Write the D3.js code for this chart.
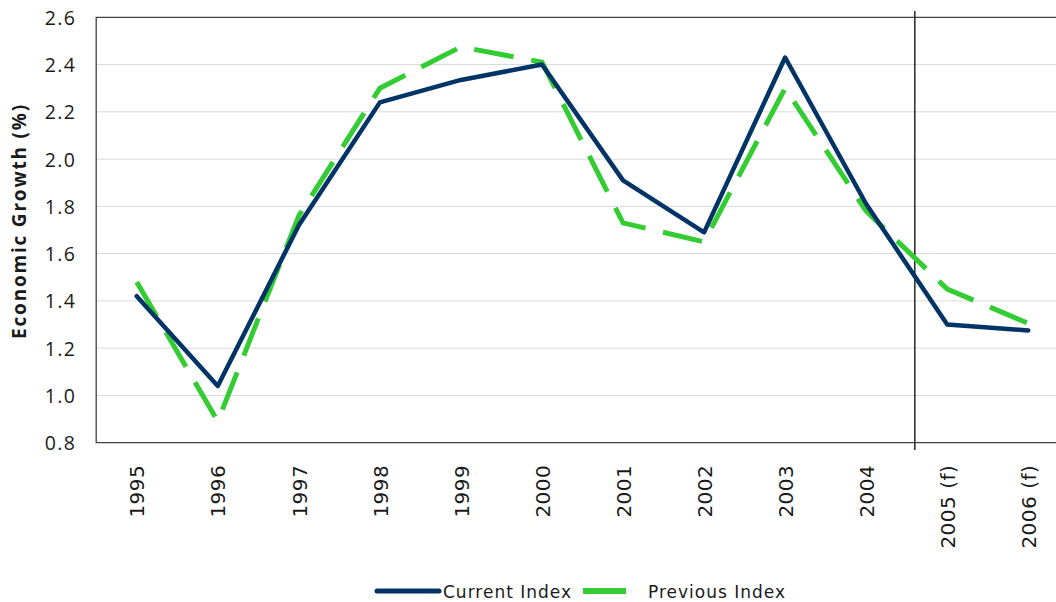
<!DOCTYPE html>
<html>
<head>
<meta charset="utf-8">
<script src="https://cdn.jsdelivr.net/npm/d3@7"></script>
<style>
  body { margin: 0; background: #fff; }
  svg { display: block; }
  .grid line { stroke: #d9d9d9; stroke-width: 1; }
  .ylab { font-family: "Open Sans", "Noto Sans", sans-serif; font-size: 19.5px; fill: #1a1a1a; }
  .xlab { font-family: "DejaVu Sans", sans-serif; font-size: 20px; fill: #1a1a1a; }
  .legend text { font-family: "DejaVu Sans", sans-serif; font-size: 17px; fill: #1a1a1a; }
</style>
</head>
<body>
<svg class="mainsvg" width="1056" height="602"></svg>
<script>
var years = ["1995", "1996", "1997", "1998", "1999", "2000", "2001", "2002", "2003", "2004", "2005 (f)", "2006 (f)"];
var currentIndex = [1.42, 1.04, 1.72, 2.24, 2.335, 2.40, 1.91, 1.69, 2.43, 1.81, 1.30, 1.275];
var previousIndex = [1.48, 0.89, 1.76, 2.30, 2.475, 2.41, 1.73, 1.65, 2.30, 1.78, 1.45, 1.305];
var yTicks = [0.8, 1.0, 1.2, 1.4, 1.6, 1.8, 2.0, 2.2, 2.4, 2.6];

var plotLeft = 96.2, plotTop = 17.3, plotBottom = 442.7;
var step = 81.05;

var svg = d3.select(".mainsvg");

var x = d3.scalePoint()
    .domain(years)
    .range([plotLeft + step / 2, plotLeft + step * (years.length - 0.5)]);

var y = d3.scaleLinear()
    .domain([0.8, 2.6])
    .range([plotBottom, plotTop]);

// horizontal gridlines
svg.append("g").attr("class", "grid")
  .selectAll("line")
  .data(yTicks.slice(1, -1))
  .enter().append("line")
  .attr("x1", plotLeft).attr("x2", 1056)
  .attr("y1", function (d) { return y(d); })
  .attr("y2", function (d) { return y(d); });

// plot frame
svg.append("path")
  .attr("d", "M1056," + y(2.6) + "H" + plotLeft + "V" + y(0.8) + "H1056")
  .attr("fill", "none")
  .attr("stroke", "#404040")
  .attr("stroke-width", 1.3);

// y axis labels
var yAxis = d3.axisLeft(y).tickValues(yTicks).tickFormat(d3.format(".1f")).tickSize(0).tickPadding(20);
var ya = svg.append("g").attr("transform", "translate(" + plotLeft + ",0)").call(yAxis);
ya.select(".domain").remove();
ya.selectAll("text").attr("class", "ylab").attr("font-family", null).attr("font-size", null)
  .attr("letter-spacing", "1.3px").attr("dy", "0.36em");

// x axis labels
var xAxis = d3.axisBottom(x).tickSize(0).tickPadding(0);
var xa = svg.append("g").attr("transform", "translate(0," + plotBottom + ")").call(xAxis);
xa.select(".domain").remove();
xa.selectAll("text")
  .attr("class", "xlab").attr("font-family", null).attr("font-size", null)
  .attr("text-anchor", "end")
  .attr("letter-spacing", "0.5px")
  .attr("transform", "rotate(-90)")
  .attr("x", -22).attr("y", 0).attr("dy", "0.36em");

// forecast divider
var divX = x("2004") + step * 0.6;
svg.append("line")
  .attr("x1", divX).attr("x2", divX)
  .attr("y1", 11).attr("y2", 450)
  .attr("stroke", "#262626").attr("stroke-width", 1.5);

// y axis title
svg.append("text")
  .attr("transform", "translate(26,221) rotate(-90)")
  .attr("text-anchor", "middle")
  .style("font-family", "'Open Sans', 'Noto Sans', sans-serif")
  .style("font-size", "19px")
  .style("font-weight", "bold")
  .style("letter-spacing", "1.8px")
  .attr("fill", "#1a1a1a")
  .text("Economic Growth (%)");

var line = d3.line()
  .x(function (d, i) { return x(years[i]); })
  .y(function (d) { return y(d); });

svg.append("path")
  .datum(previousIndex)
  .attr("d", line)
  .attr("fill", "none")
  .attr("stroke", "#33cc33")
  .attr("stroke-width", 5)
  .attr("stroke-dasharray", "40,18");

svg.append("path")
  .datum(currentIndex)
  .attr("d", line)
  .attr("fill", "none")
  .attr("stroke", "#003366")
  .attr("stroke-width", 4.5)
  .attr("stroke-linejoin", "round")
  .attr("stroke-linecap", "round");

// legend
var legend = svg.append("g").attr("class", "legend");
legend.append("line")
  .attr("x1", 377).attr("x2", 439).attr("y1", 591).attr("y2", 591)
  .attr("stroke", "#003366").attr("stroke-width", 5).attr("stroke-linecap", "round");
legend.append("text").attr("x", 443).attr("y", 597.5).attr("letter-spacing", "1px").text("Current Index");
legend.append("line")
  .attr("x1", 583).attr("x2", 626).attr("y1", 591).attr("y2", 591)
  .attr("stroke", "#33cc33").attr("stroke-width", 6);
legend.append("text").attr("x", 648).attr("y", 597.5).attr("letter-spacing", "1px").text("Previous Index");
</script>
</body>
</html>
